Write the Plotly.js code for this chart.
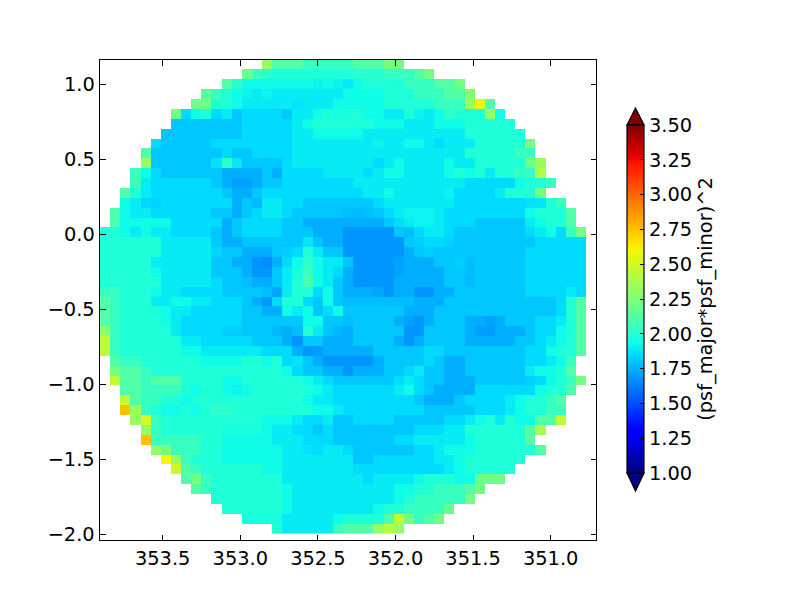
<!DOCTYPE html>
<html>
<head>
<meta charset="utf-8">
<script src="https://cdn.plot.ly/plotly-3.0.1.min.js"></script>
<style>html,body{margin:0;padding:0;background:#fff}</style>
</head>
<body>
<div id="chart" style="width:800px;height:600px"></div>
<script>
const xTicks = [353.5, 353.0, 352.5, 352.0, 351.5, 351.0];
const yTicks = [1.0, 0.5, 0.0, -0.5, -1.0, -1.5, -2.0];
const barTicks = [1.0, 1.25, 1.5, 1.75, 2.0, 2.25, 2.5, 2.75, 3.0, 3.25, 3.5];
const barTitle = '(psf_major*psf_minor)^2';
const rowFirstColumn = [16,14,12,10,9,7,7,6,5,4,4,3,3,2,2,1,1,0,0,0,0,0,0,0,0,0,0,0,0,0,1,1,1,2,2,2,3,4,4,5,6,7,8,9,11,12,14,17];
const jet = [[0,'#000080'],[0.11,'#0000ff'],[0.125,'#0000ff'],[0.34,'#00dbff'],[0.375,'#10ffe7'],[0.5,'#7dff7a'],[0.64,'#f4f800'],[0.66,'#ffe600'],[0.89,'#ff1300'],[0.91,'#e60000'],[1,'#800000']];
const psfRows = [
[2.33,2.12,2.12,2.12,2.05,2.05,2.05,2.05,2.05,2.12,2.12,2.12,2.22,2.22],
[2.2,2.07,2.02,1.98,1.98,1.98,1.98,1.98,1.98,1.98,1.98,2.01,2.01,2.01,2.05,2.05,2.05,2.12,2.22],
[2.12,2.01,1.93,1.93,1.93,1.93,1.93,1.93,1.93,1.91,1.93,1.91,1.89,1.93,1.98,1.98,1.98,1.97,2.05,2.05,2.05,2.12,2.12,2.22],
[2.15,2.05,1.98,1.93,1.91,1.89,1.91,1.89,1.89,1.89,1.89,1.89,1.89,1.89,1.93,1.93,1.93,1.93,1.98,1.98,1.98,2.05,2.05,2.05,2.12,2.12,2.27],
[2.2,2.2,1.98,1.98,1.93,1.89,1.89,1.89,1.89,1.89,1.87,1.89,1.89,1.89,1.93,1.93,1.93,1.93,1.93,1.98,1.98,1.98,1.98,1.98,2.05,2.05,2.05,2.33,2.55,2.12],
[2.22,1.85,1.93,1.98,1.85,1.89,1.8,1.85,1.85,1.85,1.85,1.8,1.89,1.89,1.93,1.98,1.95,1.97,1.98,1.93,1.93,1.89,1.89,1.98,1.91,1.89,1.93,2.03,1.98,1.98,1.98,2.33,1.93],
[1.8,1.8,1.8,1.8,1.8,1.8,1.8,1.85,1.85,1.85,1.85,1.85,1.89,1.93,1.98,1.98,1.98,1.98,1.98,1.98,1.93,1.93,1.93,1.89,1.89,1.89,1.93,1.93,1.93,1.98,1.98,1.98,1.98,1.98],
[1.8,1.8,1.8,1.8,1.8,1.8,1.8,1.8,1.85,1.85,1.85,1.85,1.85,1.89,1.89,1.93,1.93,1.93,1.93,1.93,1.89,1.89,1.89,1.89,1.89,1.89,1.89,1.89,1.89,1.89,1.98,1.98,1.98,1.98,1.98,1.98],
[1.85,1.8,1.8,1.8,1.8,1.8,1.85,1.85,1.85,1.85,1.85,1.85,1.85,1.85,1.89,1.89,1.89,1.89,1.89,1.89,1.89,1.89,1.91,1.89,1.89,1.93,1.93,1.89,1.85,1.89,1.89,1.89,1.98,1.98,1.98,1.98,1.98,2.22],
[2.12,1.8,1.8,1.8,1.8,1.8,1.8,1.8,1.85,1.8,1.8,1.85,1.85,1.85,1.85,1.89,1.89,1.89,1.89,1.89,1.89,1.89,1.89,1.89,1.89,1.89,1.89,1.89,1.89,1.89,1.89,1.89,1.98,1.98,1.98,1.98,1.98,2.05,2.05],
[2.33,1.8,1.8,1.8,1.8,1.8,1.8,1.87,2.02,1.88,1.8,1.8,1.8,1.8,1.85,1.89,1.89,1.89,1.89,1.89,1.89,1.89,1.89,1.85,1.89,1.93,1.89,1.89,1.89,1.89,1.93,1.89,1.89,1.98,1.98,1.98,1.98,1.98,2.22,2.33],
[2.05,1.93,1.85,1.8,1.8,1.8,1.8,1.8,1.8,1.74,1.74,1.74,1.74,1.8,1.74,1.85,1.85,1.85,1.85,1.89,1.89,1.89,1.89,1.85,1.89,1.93,1.93,1.89,1.89,1.89,1.89,1.93,1.98,1.93,1.98,1.89,1.98,1.98,2.03,2.03,2.4],
[2.05,1.89,1.85,1.85,1.85,1.85,1.85,1.85,1.8,1.74,1.71,1.71,1.74,1.8,1.8,1.85,1.85,1.85,1.85,1.85,1.85,1.85,1.89,1.89,1.89,1.89,1.89,1.89,1.89,1.89,1.89,1.89,1.89,1.85,1.85,1.85,1.85,1.85,1.93,1.98,1.98,2.05],
[2.12,1.98,1.89,1.85,1.85,1.85,1.85,1.85,1.85,1.85,1.8,1.74,1.74,1.8,1.85,1.85,1.85,1.85,1.85,1.85,1.85,1.85,1.85,1.85,1.89,1.89,1.93,1.89,1.89,1.89,1.89,1.89,1.91,1.85,1.85,1.85,1.85,1.89,1.98,1.98,1.98,2.22],
[1.93,1.89,1.84,1.83,1.85,1.85,1.85,1.85,1.85,1.85,1.85,1.74,1.8,1.77,1.89,1.89,1.85,1.85,1.8,1.8,1.8,1.8,1.8,1.8,1.8,1.85,1.89,1.89,1.89,1.89,1.89,1.89,1.89,1.85,1.85,1.85,1.85,1.85,1.85,1.85,1.87,1.87,1.98,2.05],
[2.1,1.93,1.89,1.89,1.85,1.85,1.85,1.85,1.85,1.85,1.8,1.8,1.74,1.8,1.85,1.89,1.89,1.85,1.8,1.8,1.8,1.8,1.8,1.78,1.77,1.78,1.8,1.85,1.89,1.91,1.91,1.91,1.89,1.85,1.85,1.85,1.85,1.85,1.85,1.85,1.85,1.93,1.98,1.98,1.98,2.12],
[2.12,1.93,1.93,1.93,1.93,1.93,1.85,1.85,1.85,1.85,1.85,1.74,1.8,1.85,1.85,1.85,1.85,1.8,1.8,1.74,1.74,1.74,1.74,1.74,1.74,1.74,1.74,1.8,1.85,1.89,1.91,1.91,1.89,1.85,1.85,1.85,1.8,1.8,1.8,1.8,1.8,1.89,1.93,1.98,1.98,2.12],
[1.98,1.98,1.93,1.89,1.93,1.89,1.89,1.85,1.85,1.85,1.85,1.8,1.74,1.8,1.85,1.85,1.85,1.85,1.8,1.8,1.8,1.74,1.74,1.74,1.68,1.68,1.68,1.68,1.68,1.8,1.78,1.85,1.89,1.89,1.85,1.8,1.8,1.8,1.8,1.8,1.8,1.8,1.85,1.89,1.93,1.85,2.05,2.22],
[1.98,1.98,1.98,1.98,1.98,1.98,1.89,1.89,1.89,1.89,1.89,1.8,1.74,1.74,1.8,1.8,1.8,1.8,1.8,1.8,1.88,1.8,1.74,1.74,1.68,1.68,1.68,1.68,1.68,1.68,1.8,1.82,1.85,1.85,1.83,1.8,1.8,1.8,1.8,1.8,1.8,1.8,1.8,1.85,1.85,1.85,1.85,1.85],
[1.98,1.98,1.98,1.98,1.98,1.98,1.89,1.89,1.89,1.89,1.89,1.84,1.8,1.8,1.74,1.74,1.74,1.8,1.82,1.85,1.98,1.89,1.8,1.8,1.68,1.68,1.68,1.68,1.68,1.68,1.74,1.8,1.82,1.8,1.8,1.8,1.8,1.8,1.8,1.8,1.8,1.8,1.85,1.85,1.85,1.85,1.85,1.85],
[1.98,1.98,1.98,1.98,1.98,1.89,1.89,1.89,1.89,1.89,1.89,1.8,1.8,1.74,1.74,1.68,1.66,1.74,1.85,1.93,2.02,1.93,1.89,1.89,1.8,1.68,1.68,1.68,1.68,1.71,1.74,1.74,1.74,1.8,1.8,1.82,1.78,1.8,1.8,1.8,1.8,1.8,1.85,1.85,1.85,1.85,1.85,1.85],
[1.98,1.98,1.98,1.98,1.98,1.93,1.89,1.89,1.89,1.89,1.89,1.8,1.8,1.8,1.74,1.68,1.68,1.8,1.89,1.96,2.05,1.93,1.89,1.85,1.74,1.68,1.68,1.68,1.68,1.71,1.74,1.74,1.74,1.74,1.8,1.8,1.78,1.8,1.8,1.8,1.8,1.8,1.85,1.85,1.85,1.85,1.85,1.85],
[1.98,1.98,1.98,1.98,1.98,1.98,1.89,1.89,1.89,1.89,1.89,1.85,1.8,1.8,1.78,1.74,1.74,1.8,1.89,1.98,2.1,1.93,1.89,1.8,1.74,1.68,1.68,1.68,1.68,1.74,1.74,1.74,1.74,1.74,1.8,1.8,1.77,1.8,1.8,1.8,1.8,1.8,1.85,1.85,1.85,1.85,1.85,1.85],
[2.05,2.05,1.98,1.98,1.98,1.93,1.89,1.89,1.85,1.85,1.85,1.85,1.8,1.8,1.8,1.8,1.78,1.72,1.89,1.98,1.98,1.85,1.93,1.8,1.74,1.74,1.74,1.72,1.68,1.74,1.74,1.68,1.68,1.74,1.74,1.8,1.8,1.8,1.8,1.8,1.8,1.8,1.85,1.85,1.85,1.85,1.89,1.85],
[2.12,2.05,1.98,1.98,1.98,1.89,1.89,1.93,1.93,1.89,1.89,1.85,1.85,1.85,1.8,1.74,1.69,1.85,1.98,1.98,1.85,1.8,1.93,1.8,1.78,1.78,1.78,1.78,1.78,1.78,1.78,1.74,1.74,1.74,1.8,1.8,1.8,1.8,1.8,1.8,1.8,1.8,1.8,1.8,1.8,1.85,1.98,2.12],
[2.12,2.05,1.98,1.98,1.98,1.98,1.93,1.89,1.89,1.85,1.85,1.85,1.85,1.85,1.8,1.8,1.74,1.74,1.93,1.89,1.93,1.8,1.85,1.93,1.8,1.8,1.8,1.8,1.8,1.8,1.74,1.74,1.74,1.8,1.8,1.8,1.8,1.8,1.8,1.8,1.8,1.8,1.8,1.8,1.8,1.85,1.98,2.12],
[2.12,2.05,1.98,1.98,1.98,1.98,1.93,1.89,1.85,1.85,1.85,1.85,1.85,1.85,1.8,1.8,1.8,1.8,1.8,1.8,1.93,1.93,1.8,1.8,1.78,1.8,1.8,1.8,1.8,1.74,1.71,1.68,1.74,1.8,1.8,1.8,1.74,1.74,1.71,1.74,1.8,1.8,1.8,1.85,1.85,1.89,1.98,2.12],
[2.3,2.05,1.98,1.98,1.98,1.98,1.98,1.89,1.85,1.85,1.85,1.85,1.82,1.82,1.8,1.8,1.8,1.77,1.74,1.78,2.0,1.89,1.8,1.76,1.74,1.8,1.8,1.8,1.8,1.8,1.68,1.68,1.8,1.8,1.8,1.8,1.74,1.7,1.7,1.74,1.74,1.74,1.8,1.85,1.85,1.93,1.98,2.12],
[2.45,2.05,1.98,1.98,1.98,1.98,1.98,1.98,1.89,1.89,1.85,1.85,1.85,1.85,1.85,1.8,1.8,1.8,1.74,1.68,1.8,1.8,1.74,1.74,1.74,1.8,1.8,1.8,1.8,1.74,1.68,1.74,1.8,1.8,1.8,1.8,1.74,1.74,1.74,1.74,1.74,1.8,1.8,1.85,1.89,1.93,1.98,2.12],
[2.45,2.05,1.98,1.98,1.98,1.98,1.98,1.98,1.93,1.93,1.89,1.89,1.89,1.89,1.89,1.89,1.85,1.85,1.85,1.74,1.68,1.7,1.74,1.74,1.74,1.74,1.74,1.8,1.8,1.8,1.8,1.8,1.85,1.85,1.8,1.8,1.8,1.8,1.8,1.8,1.8,1.8,1.85,1.85,1.93,1.98,1.98,2.12],
[2.12,2.05,2.05,1.98,1.98,1.98,1.98,1.98,1.98,1.93,1.93,1.93,1.93,1.98,1.98,1.93,1.98,1.85,1.87,1.8,1.74,1.68,1.68,1.68,1.68,1.68,1.74,1.8,1.8,1.8,1.8,1.85,1.8,1.74,1.74,1.8,1.8,1.8,1.8,1.8,1.8,1.85,1.85,1.89,1.93,2.05],
[2.22,2.12,2.12,2.05,1.98,1.98,1.98,1.98,1.98,1.98,1.98,1.98,1.98,1.98,1.98,1.98,1.98,1.93,1.85,1.8,1.8,1.74,1.74,1.68,1.74,1.74,1.74,1.8,1.8,1.85,1.89,1.8,1.8,1.74,1.74,1.8,1.8,1.8,1.8,1.8,1.8,1.89,1.93,1.93,1.98,2.12],
[2.45,2.12,2.12,2.05,2.12,2.12,2.12,1.98,1.98,1.98,1.98,1.93,1.93,1.98,1.98,1.98,1.98,1.98,1.98,1.93,1.89,1.85,1.8,1.8,1.8,1.8,1.8,1.8,1.85,1.89,1.85,1.8,1.8,1.74,1.74,1.74,1.8,1.8,1.8,1.8,1.8,1.82,1.85,1.93,1.98,2.05,2.22],
[2.12,2.12,2.05,2.05,2.05,2.05,1.98,1.93,1.98,1.98,1.93,1.91,1.93,1.98,1.98,1.98,1.98,1.98,1.98,1.93,1.89,1.85,1.85,1.85,1.85,1.85,1.85,1.89,1.93,1.85,1.8,1.74,1.74,1.74,1.74,1.85,1.85,1.85,1.85,1.85,1.85,1.93,1.98,1.98,2.1],
[2.45,2.12,2.05,2.05,1.98,1.98,1.93,1.98,1.98,1.98,1.98,1.98,1.98,1.98,1.98,1.98,1.98,1.98,1.93,1.89,1.89,1.85,1.85,1.85,1.85,1.85,1.85,1.85,1.85,1.8,1.74,1.74,1.74,1.8,1.85,1.85,1.85,1.85,1.89,1.93,1.98,1.98,2.05,2.12],
[2.75,2.33,2.05,1.98,1.93,1.93,1.98,1.93,1.98,2.03,2.03,1.98,1.98,1.98,1.98,1.98,1.98,1.98,1.98,1.93,1.93,1.89,1.85,1.85,1.85,1.85,1.85,1.85,1.85,1.85,1.8,1.8,1.8,1.8,1.8,1.85,1.85,1.85,1.89,1.93,1.98,1.98,2.05,2.05],
[2.33,2.5,2.05,1.98,1.98,1.98,1.98,1.98,1.98,1.98,1.98,1.98,1.98,1.93,1.93,1.93,1.89,1.85,1.85,1.89,1.8,1.8,1.85,1.85,1.85,1.85,1.8,1.8,1.8,1.8,1.8,1.85,1.85,1.89,1.93,1.98,1.89,1.98,1.93,1.93,2.12,2.12,2.45],
[2.33,2.05,1.98,1.98,1.98,1.98,1.98,1.98,1.96,1.96,1.96,1.96,1.93,1.89,1.89,1.85,1.85,1.8,1.85,1.8,1.8,1.8,1.8,1.8,1.8,1.8,1.8,1.85,1.85,1.85,1.89,1.89,1.98,1.98,1.98,1.98,1.98,1.98,2.12,2.36],
[2.75,2.05,2.05,2.05,2.05,2.05,1.98,1.98,1.93,1.93,1.93,1.93,1.93,1.89,1.89,1.89,1.85,1.85,1.85,1.8,1.8,1.8,1.8,1.8,1.8,1.85,1.85,1.89,1.89,1.89,1.89,1.89,1.93,1.98,1.98,1.98,1.98,1.98,2.12],
[2.3,2.22,2.05,2.05,2.05,1.98,1.98,1.93,1.93,1.93,1.93,1.93,1.93,1.89,1.89,1.87,1.85,1.89,1.89,1.85,1.8,1.8,1.8,1.8,1.8,1.8,1.85,1.85,1.89,1.93,1.93,1.93,1.98,1.98,1.98,1.98,1.98,1.98,2.12],
[2.6,2.33,2.05,1.98,1.98,1.98,1.93,1.93,1.93,1.93,1.93,1.93,1.89,1.89,1.89,1.89,1.89,1.89,1.89,1.8,1.8,1.85,1.85,1.85,1.85,1.85,1.85,1.89,1.89,1.93,1.98,1.98,1.98,1.98,1.98,1.98],
[2.48,2.12,2.05,1.98,1.98,1.98,1.98,1.98,1.98,1.93,1.93,1.89,1.89,1.89,1.89,1.89,1.89,1.89,1.85,1.85,1.85,1.85,1.85,1.85,1.85,1.85,1.85,1.89,1.93,1.98,1.98,1.98,1.98,1.98],
[2.12,2.22,2.05,1.98,1.98,1.98,1.98,1.98,1.98,1.98,1.89,1.89,1.89,1.89,1.89,1.89,1.89,1.89,1.85,1.89,1.89,1.89,1.89,1.93,1.98,1.98,1.98,1.93,1.93,2.2,2.2,2.2],
[2.12,2.05,1.98,1.98,1.98,1.98,1.98,1.98,1.98,1.93,1.89,1.89,1.89,1.89,1.89,1.89,1.89,1.89,1.89,1.89,1.93,1.93,1.98,1.98,2.05,2.05,2.05,2.12,2.22],
[1.98,1.98,1.98,1.98,1.98,1.98,1.98,1.93,1.89,1.89,1.89,1.89,1.89,1.89,1.89,1.89,1.89,1.89,1.93,1.98,2.05,2.05,2.05,2.05,2.05,2.22],
[1.98,1.98,1.98,1.98,1.98,1.98,1.93,1.89,1.89,1.89,1.89,1.89,1.89,1.89,1.89,1.93,1.98,1.98,2.05,2.05,2.05,2.05,2.18],
[1.96,1.96,1.96,1.96,1.89,1.89,1.89,1.89,1.89,1.93,1.98,1.98,1.98,1.98,2.12,2.45,2.22,2.05,2.12,2.22],
[1.98,1.89,1.89,1.89,1.89,1.89,2.05,2.12,2.12,2.12,2.33,2.42,2.33]
];

const z = psfRows.map((row, r) => {
  const full = new Array(48).fill(null);
  row.forEach((v, c) => { full[rowFirstColumn[r] + c] = v; });
  return full;
});
const W = 496, H = 480, L = 100, T = 60;
const px = v => (v - L) / W;
const py = v => 1 - (v - T) / H;
const fontSize = 19.4;

Plotly.newPlot('chart', [{
  type: 'heatmap',
  z: z,
  x0: 353.871, dx: -0.06524,
  y0: 1.132, dy: -0.0658,
  zmin: 1, zmax: 3.5,
  colorscale: jet,
  zsmooth: false,
  hoverongaps: false,
  colorbar: {
    x: px(627), xanchor: 'left', xpad: 0,
    y: py(299), yanchor: 'middle', ypad: 0,
    len: 348, lenmode: 'pixels',
    thickness: 17, thicknessmode: 'pixels',
    outlinecolor: '#000', outlinewidth: 1.2,
    ticks: 'inside', ticklen: 4, tickwidth: 1, tickcolor: '#000',
    tickmode: 'array', tickvals: barTicks,
    ticktext: barTicks.map(v => v.toFixed(2)),
    tickfont: {family: 'DejaVu Sans', size: fontSize, color: '#000'},
    title: {text: barTitle, side: 'right', font: {family: 'DejaVu Sans', size: fontSize, color: '#000'}}
  }
}], {
  width: 800, height: 600,
  margin: {l: L, r: 204, t: T, b: 60, pad: 0},
  paper_bgcolor: '#fff', plot_bgcolor: '#fff',
  font: {family: 'DejaVu Sans', size: fontSize, color: '#000'},
  xaxis: {
    range: [353.904, 350.708], autorange: false,
    tickmode: 'array', tickvals: xTicks, ticktext: xTicks.map(v => v.toFixed(1)),
    ticks: 'inside', ticklen: 5.5, tickwidth: 1, tickcolor: '#000',
    showline: true, linecolor: '#000', linewidth: 1.4, mirror: 'ticks',
    showgrid: false, zeroline: false
  },
  yaxis: {
    range: [-2.038, 1.162], autorange: false,
    tickmode: 'array', tickvals: yTicks, ticktext: yTicks.map(v => v.toFixed(1).replace('-', '\u2212')),
    ticks: 'inside', ticklen: 5.5, tickwidth: 1, tickcolor: '#000',
    showline: true, linecolor: '#000', linewidth: 1.4, mirror: 'ticks',
    showgrid: false, zeroline: false
  },
  shapes: [
    {type: 'path', xref: 'paper', yref: 'paper', layer: 'above',
     path: `M ${px(627)} ${py(125)} L ${px(635.5)} ${py(108)} L ${px(644)} ${py(125)} Z`,
     fillcolor: '#800000', line: {color: '#000', width: 1.2}},
    {type: 'path', xref: 'paper', yref: 'paper', layer: 'above',
     path: `M ${px(627)} ${py(473)} L ${px(635.5)} ${py(491)} L ${px(644)} ${py(473)} Z`,
     fillcolor: '#000080', line: {color: '#000', width: 1.2}}
  ]
}, {displayModeBar: false, staticPlot: true});
</script>
</body>
</html>
